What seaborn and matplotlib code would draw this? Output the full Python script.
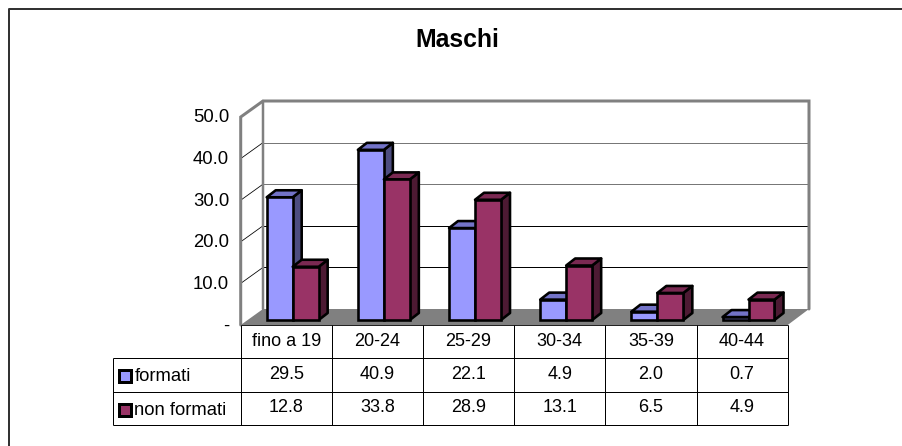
import matplotlib
matplotlib.use("Agg")
import matplotlib.pyplot as plt
import pandas as pd
import seaborn as sns
from matplotlib.patches import Polygon, Rectangle

categorie = ["fino a 19", "20-24", "25-29", "30-34", "35-39", "40-44"]
formati = [29.5, 40.9, 22.1, 4.9, 2.0, 0.7]
non_formati = [12.8, 33.8, 28.9, 13.1, 6.5, 4.9]
serie = ["formati", "non formati"]
tick_valori = [0, 10, 20, 30, 40, 50]
tick_etichette = ["-", "10.0", "20.0", "30.0", "40.0", "50.0"]

colori = {"formati": "#9999FF", "non formati": "#993366"}
colori_top = {"formati": "#7373C8", "non formati": "#7A2952"}
colori_lato = {"formati": "#4D4D80", "non formati": "#4D1A33"}

W, H = 902, 446
px = 0.72  # 1 pixel in punti a dpi 100

# geometria del grafico in pixel (y verso il basso)
FRONT_X0, FRONT_X1 = 240.7, 787.7
FRONT_Y0, BACK_Y0 = 325, 309
BACK_X0, BACK_X1 = 263, 809
PX_PER_UNIT = 4.16
BAR_X0, BAR_Y0 = 247.1, 320
RIGHE_Y = [325, 357.7, 392.3, 425]
TAB_X0 = 113.3
COL_W = (FRONT_X1 - FRONT_X0) / len(categorie)
DEPTH_X = 9 / COL_W
DEPTH_Y = 7 / PX_PER_UNIT


def y_front(v):
    return FRONT_Y0 - v * PX_PER_UNIT


def y_back(v):
    return BACK_Y0 - v * PX_PER_UNIT


sns.set_theme(style="white")
plt.rcParams["font.family"] = ["Liberation Sans", "DejaVu Sans"]

fig = plt.figure(figsize=(W / 100, H / 100), dpi=100)

# sfondo in pixel: cornice, pareti, griglia, tabella
bg = fig.add_axes([0, 0, 1, 1])
bg.set_xlim(0, W)
bg.set_ylim(H, 0)
bg.axis("off")

bg.plot([8.5, 8.5, W], [H, 8.5, 8.5], color="#333333", lw=2 * px)
bg.text(457.5, 40, "Maschi", ha="center", va="center", fontsize=17.8, fontweight="bold", color="black")

# pavimento
bg.add_patch(Polygon([(FRONT_X0, FRONT_Y0), (BACK_X0, BACK_Y0), (BACK_X1, BACK_Y0), (FRONT_X1, FRONT_Y0)],
                     facecolor="#808080", edgecolor="none", zorder=1))

# griglia: le prime due righe in alto risultano grigie nell'originale
for v in tick_valori[1:-1]:
    col = "#777777" if v >= 30 else "black"
    bg.plot([BACK_X0, BACK_X1], [y_back(v), y_back(v)], color=col, lw=1 * px, zorder=2)
    bg.plot([FRONT_X0, BACK_X0], [y_front(v), y_back(v)], color="black", lw=0.8 * px, zorder=2)

# pareti
bg.plot([FRONT_X0, FRONT_X0, BACK_X0, BACK_X1, BACK_X1],
        [y_front(0), y_front(50), y_back(50), y_back(50), y_back(0)],
        color="#808080", lw=3 * px, solid_joinstyle="miter", zorder=3)
bg.plot([BACK_X0, BACK_X0], [y_back(50), y_back(0)], color="#808080", lw=2.5 * px, zorder=3)

# etichette asse y
for v, et in zip(tick_valori, tick_etichette):
    bg.text(229, y_front(v) + 1, et, ha="right", va="center", fontsize=13.3, color="black")

# tabella dati
colonne = [FRONT_X0 + i * COL_W for i in range(len(categorie) + 1)]
bg.hlines(RIGHE_Y[0], FRONT_X0, FRONT_X1, color="#222222", lw=1 * px, zorder=4)
bg.hlines(RIGHE_Y[1:], TAB_X0, FRONT_X1, color="black", lw=1 * px, zorder=4)
bg.vlines(colonne, RIGHE_Y[0], RIGHE_Y[-1], color="black", lw=1 * px, zorder=4)
bg.vlines(TAB_X0, RIGHE_Y[1], RIGHE_Y[-1], color="black", lw=1 * px, zorder=4)

for i, cat in enumerate(categorie):
    xc = colonne[i] + COL_W / 2
    bg.text(xc, 342, cat, ha="center", va="center", fontsize=13, color="black")
    bg.text(xc, 374.5, f"{formati[i]:.1f}", ha="center", va="center", fontsize=13, color="black")
    bg.text(xc, 408, f"{non_formati[i]:.1f}", ha="center", va="center", fontsize=13, color="black")

for nome, y_testo, y_key in zip(serie, [376.5, 410.5], [370, 404]):
    bg.add_patch(Rectangle((118.5, y_key), 12, 12, facecolor=colori[nome], edgecolor="black", lw=3 * px, zorder=5))
    bg.text(134.5, y_testo, nome, ha="left", va="center", fontsize=13.3, color="black")

# barre: seaborn sul piano centrale della profondità
df = pd.DataFrame({
    "eta": categorie * 2,
    "valore": formati + non_formati,
    "serie": ["formati"] * len(categorie) + ["non formati"] * len(categorie),
})

ax = fig.add_axes([BAR_X0 / W, (H - BAR_Y0) / H, (FRONT_X1 - FRONT_X0) / W, 50 * PX_PER_UNIT / H])
ax.patch.set_visible(False)
sns.barplot(data=df, x="eta", y="valore", hue="serie", order=categorie, hue_order=serie,
            palette=colori, saturation=1, width=0.57, gap=0, edgecolor="black",
            linewidth=2.6 * px, legend=False, ax=ax)
ax.set_xlim(-0.5, len(categorie) - 0.5)
ax.set_ylim(0, 50)
ax.axis("off")

# facce laterali e superiori ricavate dalle barre
for i, (nome, cont) in enumerate(zip(serie, ax.containers)):
    for bar in cont:
        x, w, h = bar.get_x(), bar.get_width(), bar.get_height()
        bar.set_zorder(3 + 2 * i)
        bar.set_clip_on(False)
        bar.set_joinstyle("miter")
        lato = [(x + w, 0), (x + w + DEPTH_X, DEPTH_Y), (x + w + DEPTH_X, h + DEPTH_Y), (x + w, h)]
        top = [(x, h), (x + DEPTH_X, h + DEPTH_Y), (x + w + DEPTH_X, h + DEPTH_Y), (x + w, h)]
        for pts, col in ((lato, colori_lato[nome]), (top, colori_top[nome])):
            ax.add_patch(Polygon(pts, facecolor=col, edgecolor="black", lw=2.6 * px,
                                 joinstyle="round", clip_on=False, zorder=2 + 2 * i))

fig.savefig("out.png", dpi=100)
